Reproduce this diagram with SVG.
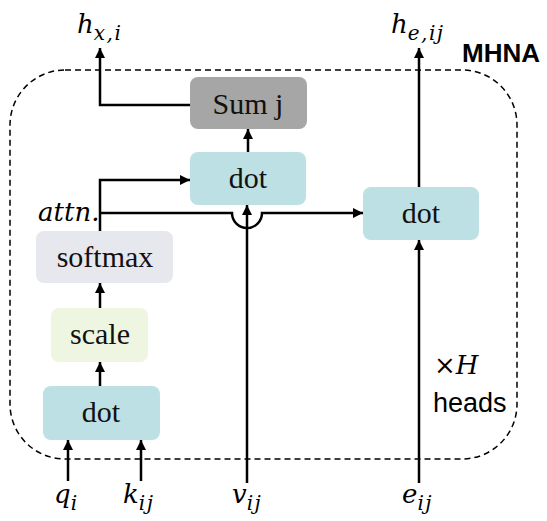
<svg xmlns="http://www.w3.org/2000/svg" width="547" height="521" viewBox="0 0 547 521">
<defs>
<marker id="arr" viewBox="0 0 10 10" refX="10" refY="5" markerWidth="10" markerHeight="10" markerUnits="userSpaceOnUse" orient="auto">
<path d="M0,0 L10,5 L0,10 Z" fill="#000"/>
</marker>
<style>
.box{stroke:none;}
.teal{fill:#bce0e3;}
.gray{fill:#a6a6a6;}
.soft{fill:#e7e7ee;}
.scale{fill:#eef6e2;}
.lbl{font-family:"Liberation Serif",serif;font-size:30px;fill:#111;text-anchor:middle;}
.math{font-family:"DejaVu Serif",serif;font-style:italic;font-size:26px;fill:#000;}
.sub{font-size:20px;letter-spacing:1.5px;}
.ln{fill:none;stroke:#000;stroke-width:2.5;}
.arrow{marker-end:url(#arr);}
</style>
</defs>
<rect x="10" y="70" width="507" height="389" rx="55" ry="55" fill="none" stroke="#000" stroke-width="1.5" stroke-dasharray="6 4"/>
<text x="462" y="62" style="font-family:'Liberation Sans',sans-serif;font-weight:bold;font-size:26px;">MHNA</text>

<g id="connectors">
<path class="ln arrow" d="M190,105 H100 V48"/>
<path class="ln arrow" d="M248,152 V129"/>
<path class="ln arrow" d="M100,231 V180 H190"/>
<path class="ln arrow" d="M100,213 H232 A15,15 0 0 0 262,213 H363"/>
<path class="ln arrow" d="M247,483 V205"/>
<path class="ln arrow" d="M419,483 V240"/>
<path class="ln arrow" d="M419,187 V48"/>
<path class="ln arrow" d="M100,386 V362"/>
<path class="ln arrow" d="M100,308 V283"/>
<path class="ln arrow" d="M68,481 V440"/>
<path class="ln arrow" d="M141,481 V440"/>
</g>

<g id="sumj"><rect class="box gray" x="190" y="77" width="117" height="52" rx="8"/><text class="lbl" x="248" y="114">Sum j</text></g>
<g id="dot_top"><rect class="box teal" x="190" y="152" width="116" height="53" rx="8"/><text class="lbl" x="248" y="188">dot</text></g>
<g id="dot_right"><rect class="box teal" x="363" y="187" width="116" height="53" rx="8"/><text class="lbl" x="421" y="223">dot</text></g>
<g id="softmax"><rect class="box soft" x="36" y="231" width="137" height="52" rx="8"/><text class="lbl" x="105" y="267">softmax</text></g>
<g id="scale"><rect class="box scale" x="51" y="308" width="97" height="54" rx="8"/><text class="lbl" x="100" y="344">scale</text></g>
<g id="dot_bottom"><rect class="box teal" x="43" y="386" width="117" height="54" rx="8"/><text class="lbl" x="101" y="422">dot</text></g>

<g id="labels">
<text class="math" x="77" y="33">h<tspan class="sub" dy="7">x,i</tspan></text>
<text class="math" x="391" y="33">h<tspan class="sub" dy="7">e,ij</tspan></text>
<text class="math" x="38" y="221">attn.</text>
<text class="math" x="54" y="503">q<tspan class="sub" dy="7">i</tspan></text>
<text class="math" x="123" y="503">k<tspan class="sub" dy="7">ij</tspan></text>
<text class="math" x="232" y="503">v<tspan class="sub" dy="7">ij</tspan></text>
<text class="math" x="402" y="503">e<tspan class="sub" dy="7">ij</tspan></text>
<text x="434" y="374" style="font-family:'DejaVu Serif',serif;font-size:26px;">×<tspan style="font-style:italic;">H</tspan></text>
<text x="433" y="412" style="font-family:'Liberation Sans',sans-serif;font-size:27px;">heads</text>
</g>
</svg>
